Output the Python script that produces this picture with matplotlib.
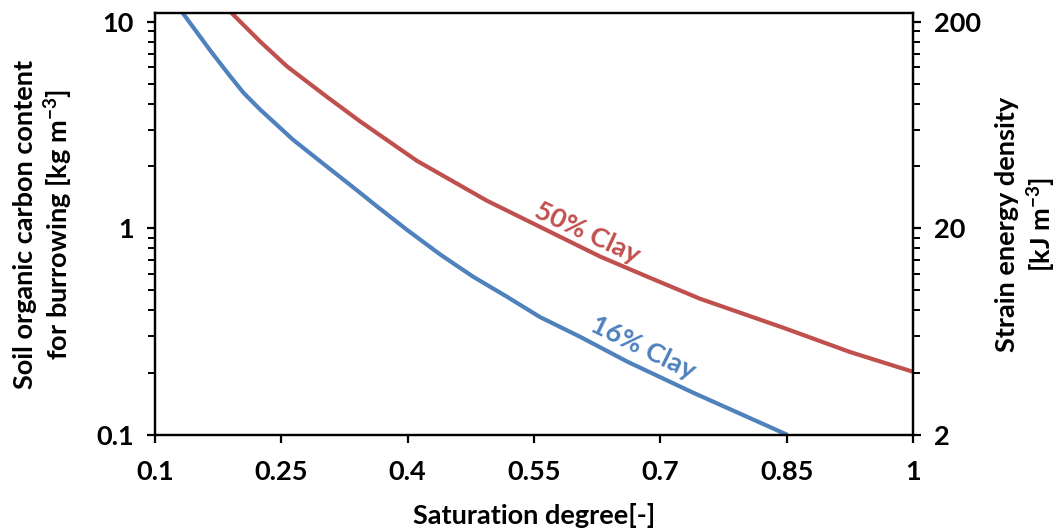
import numpy as np
import matplotlib
matplotlib.use('Agg')
import matplotlib.pyplot as plt
from matplotlib.ticker import FixedLocator, NullFormatter, FuncFormatter, NullLocator

# curves (x = saturation degree, y = SOC content)
sat_16 = [0.133, 0.165, 0.186, 0.205, 0.225, 0.264, 0.304, 0.344, 0.359, 0.399,
          0.439, 0.478, 0.518, 0.557, 0.605, 0.661, 0.739, 0.851]
soc_16 = [11.0, 7.31, 5.66, 4.53, 3.75, 2.68, 1.99, 1.48, 1.32, 0.984,
          0.745, 0.582, 0.466, 0.372, 0.298, 0.226, 0.160, 0.100]

sat_50 = [0.191, 0.225, 0.257, 0.304, 0.344, 0.411, 0.494, 0.557, 0.629,
          0.688, 0.747, 0.846, 0.925, 1.0]
soc_50 = [11.0, 8.0, 6.06, 4.33, 3.28, 2.12, 1.36, 1.016, 0.728,
          0.575, 0.456, 0.330, 0.252, 0.202]

x_ticks = [0.1, 0.25, 0.4, 0.55, 0.7, 0.85, 1]
left_ticks = [0.1, 1, 10]
right_ticks = [2, 20, 200]

red = '#C0504D'
blue = '#4F81BD'

plt.rcParams['font.family'] = ['Lato', 'DejaVu Sans']
plt.rcParams['font.weight'] = 'bold'
plt.rcParams['mathtext.fontset'] = 'custom'
plt.rcParams['mathtext.rm'] = 'Lato:bold'
plt.rcParams['mathtext.bf'] = 'Lato:bold'
plt.rcParams['mathtext.default'] = 'bf'

fs = 19.5

fig = plt.figure(figsize=(10.61, 5.31), dpi=100)
ax = fig.add_axes([0.146, 0.181, 0.7145, 0.7945])

ax.plot(sat_16, soc_16, color=blue, lw=3.0, solid_capstyle='butt')
ax.plot(sat_50, soc_50, color=red, lw=3.0, solid_capstyle='butt')

ax.set_yscale('log')
ax.set_xlim(0.1, 1)
ax.set_ylim(0.1, 11)
ax.set_xticks(x_ticks)
ax.xaxis.set_major_formatter(FuncFormatter(lambda v, p: '%g' % v))
ax.xaxis.set_minor_locator(NullLocator())
ax.yaxis.set_major_locator(FixedLocator(left_ticks))
ax.yaxis.set_major_formatter(FuncFormatter(lambda v, p: '%g' % v))
ax.yaxis.set_minor_locator(FixedLocator([d * k for d in (0.1, 1) for k in range(2, 10)]))
ax.yaxis.set_minor_formatter(NullFormatter())

for s in ax.spines.values():
    s.set_linewidth(1.6)
ax.tick_params(axis='both', which='major', direction='out', length=6, width=1.6,
               labelsize=fs)
ax.tick_params(axis='y', which='minor', direction='out', length=5, width=1.4)
ax.tick_params(axis='x', pad=12)
ax.tick_params(axis='y', pad=9)

ax.set_xlabel('Saturation degree[-]', fontsize=fs, fontweight='bold', labelpad=14)
ax.set_ylabel('Soil organic carbon content\nfor burrowing [kg m$^{-3}$]',
              fontsize=fs, fontweight='bold', labelpad=15, linespacing=1.25)

# right axis: strain energy density (20x the left scale)
ax2 = ax.twinx()
ax2.set_yscale('log')
ax2.set_ylim(2, 220)
ax2.yaxis.set_major_locator(FixedLocator(right_ticks))
ax2.yaxis.set_major_formatter(FuncFormatter(lambda v, p: '%g' % v))
ax2.yaxis.set_minor_locator(FixedLocator([d * k for d in (2, 20) for k in range(2, 10)]))
ax2.yaxis.set_minor_formatter(NullFormatter())
for s in ax2.spines.values():
    s.set_linewidth(1.6)
ax2.tick_params(axis='y', which='major', direction='out', length=6, width=1.6,
                labelsize=fs, pad=9)
ax2.tick_params(axis='y', which='minor', direction='out', length=5, width=1.4)
ax2.set_ylabel('Strain energy density\n[kJ m$^{-3}$]', fontsize=fs, fontweight='bold',
               rotation=90, labelpad=10, linespacing=1.25)

ax.text(0.613, 0.95, '50% Clay', color=red, fontsize=fs, fontweight='bold',
        rotation=-25, ha='center', va='center')
ax.text(0.68, 0.264, '16% Clay', color=blue, fontsize=fs, fontweight='bold',
        rotation=-26, ha='center', va='center')

plt.savefig('out.png', dpi=100, facecolor='white')
